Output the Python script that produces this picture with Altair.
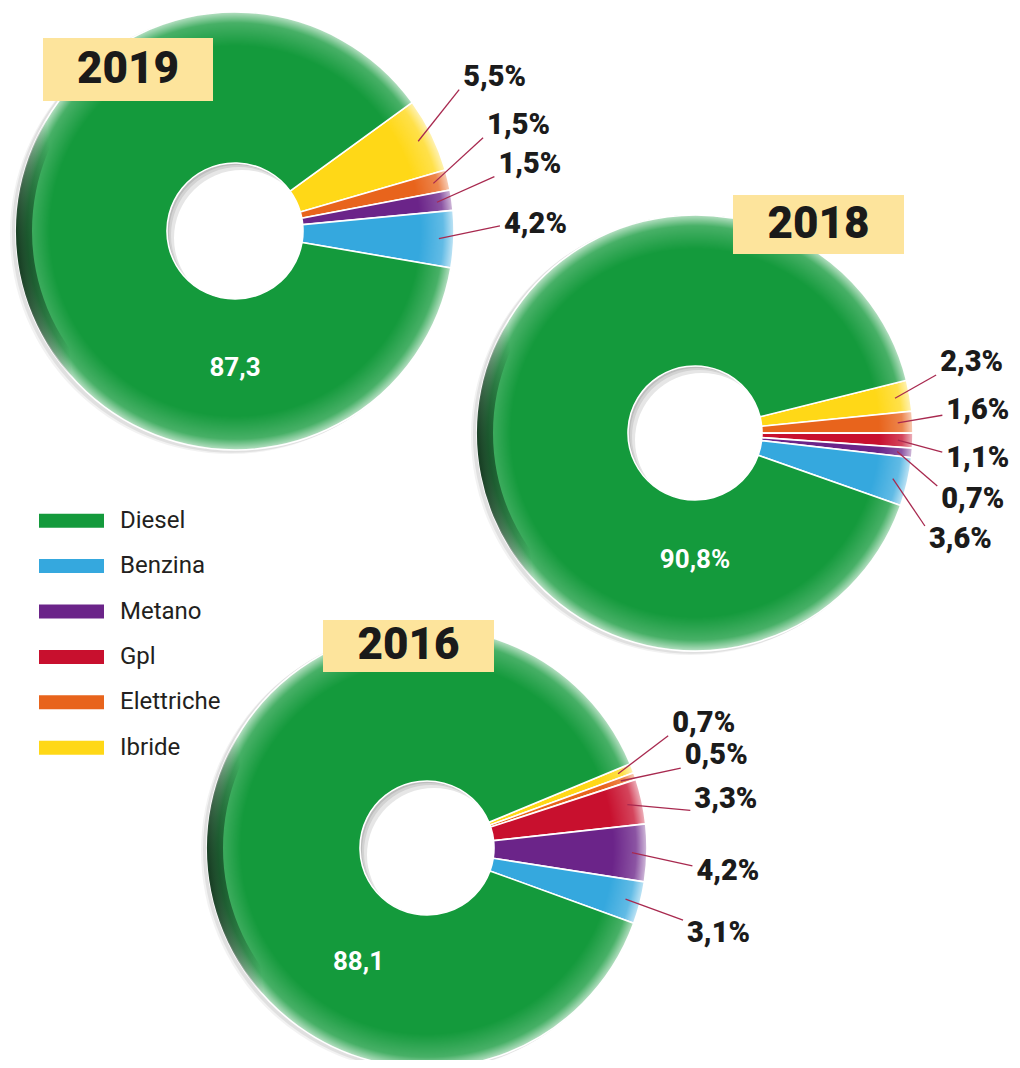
import math
import altair as alt
import pandas as pd

# ---------------- data ----------------
fuels = ["Diesel", "Benzina", "Metano", "Gpl", "Elettriche", "Ibride"]
fuel_colors = ["#149a3c", "#35a8de", "#6b2489", "#c8102e", "#e8641c", "#ffd817"]
ring_order = ["Ibride", "Elettriche", "Gpl", "Metano", "Benzina", "Diesel"]

years = ["2019", "2018", "2016"]
share_2019 = [87.3, 4.2, 1.5, 0.0, 1.5, 5.5]
share_2018 = [90.8, 3.6, 0.7, 1.1, 1.6, 2.3]
share_2016 = [88.1, 3.1, 4.2, 3.3, 0.5, 0.7]
main_label_with_pct = [False, True, False]

# ---------------- layout (page pixels) ----------------
M = 8
W, H = 1004, 1052
layout = {
    "2019": dict(cx=235, cy=231, R=219, r=68, start=54.0, box=(43, 38, 213, 101), main=(180, 137),
                 label_gap=46, label_rot=-4.0),
    "2018": dict(cx=695, cy=433, R=218, r=67, start=76.0, box=(733, 195, 904, 254), main=(180, 127),
                 label_gap=30, label_rot=2.0),
    "2016": dict(cx=427, cy=848, R=220, r=67, start=67.5, box=(323, 620, 494, 672), main=(211, 133),
                 label_gap=46, label_rot=-2.5),
}
FONT = "Roboto"
LEADER = "#a8294f"
TWO_PI = 2 * math.pi


def polar(cx, cy, r, deg):
    a = math.radians(deg)
    return cx + r * math.sin(a), cy - r * math.cos(a)


def fmt(v, pct=True):
    return f"{v:.1f}".replace(".", ",") + ("%" if pct else "")


color_scale = alt.Scale(domain=fuels, range=fuel_colors)

shadow_layers, hole_layers, ring_layers, fx_layers = [], [], [], []
label_rows, box_rows, main_rows = [], [], []

for year, shares, pct in zip(years, [share_2019, share_2018, share_2016], main_label_with_pct):
    L = layout[year]
    cx, cy = L["cx"] - M, L["cy"] - M
    R, r0, s = L["R"], L["r"], L["start"]

    rows = [dict(fuel=f, value=v, ring=ring_order.index(f)) for f, v in zip(fuels, shares) if v > 0]
    df = pd.DataFrame(rows).sort_values("ring").reset_index(drop=True)
    total = df["value"].sum()
    df["cum_end"] = df["value"].cumsum() / total
    df["cum_start"] = df["cum_end"] - df["value"] / total
    df["mid_deg"] = s + 360 * (df["cum_start"] + df["cum_end"]) / 2

    # --- label placement derived from slice angles ---
    small = df[df["fuel"] != "Diesel"].reset_index(drop=True)
    n = len(small)
    small_end = s + 360 * small["cum_end"].iloc[-1]
    centre = (s + small_end) / 2
    step = 11.0
    for i, row in small.iterrows():
        spread = centre + (i - (n - 1) / 2) * step
        la = 0.4 * row["mid_deg"] + 0.6 * spread + L["label_rot"]
        x1, y1 = polar(cx, cy, R - 15, row["mid_deg"])
        x2, y2 = polar(cx, cy, R + L["label_gap"], la)
        dy = -max(-13, min(13, math.cos(math.radians(la)) * 80))
        label_rows.append(dict(year=year, x1=x1, y1=y1, x2=x2, y2=y2,
                               tx=x2 + 4, ty=y2 + dy, text=fmt(row["value"])))

    dval = df.loc[df["fuel"] == "Diesel", "value"].iloc[0]
    mx, my = polar(cx, cy, L["main"][1], L["main"][0])
    main_rows.append(dict(x=mx, y=my, text=fmt(dval, pct)))

    bx1, by1, bx2, by2 = L["box"]
    box_rows.append(dict(year=year, x1=bx1 - M, y1=by1 - M, x2=bx2 - M, y2=by2 - M,
                         tx=(bx1 + bx2) / 2 - M, ty=(by1 + by2) / 2 - M))

    one = pd.DataFrame({"k": [0]})
    # soft outer shadow
    for off, op in [(5, 0.05), (3, 0.07)]:
        shadow_layers.append(
            alt.Chart(one).mark_arc(radius=R + 1, theta=0, theta2=TWO_PI, fill=f"rgba(0,0,0,{op})")
            .encode(x=alt.value(cx - off), y=alt.value(cy + off * 0.6))
        )
    # hole inner shadow
    for dxy, col in [(0, "#bdbdbd"), (2, "#d2d2d2"), (4, "#e6e6e6"), (7, "#ffffff")]:
        hole_layers.append(
            alt.Chart(one).mark_arc(radius=r0, theta=0, theta2=TWO_PI, fill=col)
            .encode(x=alt.value(cx + dxy), y=alt.value(cy + dxy))
        )
    # the donut itself
    ring_layers.append(
        alt.Chart(df).mark_arc(radius=R, radius2=r0, stroke="white", strokeWidth=1.6)
        .encode(
            theta=alt.Theta("value:Q", stack="normalize",
                            scale=alt.Scale(range=[math.radians(s), math.radians(s) + TWO_PI], nice=False)),
            order=alt.Order("ring:Q"),
            color=alt.Color("fuel:N", scale=color_scale, legend=None),
            x=alt.value(cx), y=alt.value(cy),
        )
    )
    # rim highlight (radial) and left dark edge (linear)
    inner_off = (R - 34) / R
    fx_layers.append(
        alt.Chart(one).mark_arc(
            radius=R, radius2=R - 34, theta=0, theta2=TWO_PI,
            fill={"gradient": "radial", "x1": 0.5, "y1": 0.5, "r1": 0, "x2": 0.5, "y2": 0.5, "r2": 0.5,
                  "stops": [{"offset": inner_off, "color": "rgba(255,255,255,0)"},
                            {"offset": 0.95, "color": "rgba(255,255,255,0.22)"},
                            {"offset": 1.0, "color": "rgba(255,255,255,0.7)"}]},
        ).encode(x=alt.value(cx), y=alt.value(cy))
    )
    fx_layers.append(
        alt.Chart(one).mark_arc(
            radius=R, radius2=R - 16, theta=0, theta2=TWO_PI,
            fill={"gradient": "linear", "x1": 0, "y1": 0.55, "x2": 1, "y2": 0.45,
                  "stops": [{"offset": 0.0, "color": "rgba(6,45,18,0.95)"},
                            {"offset": 0.1, "color": "rgba(6,45,18,0)"},
                            {"offset": 1.0, "color": "rgba(6,45,18,0)"}]},
        ).encode(x=alt.value(cx), y=alt.value(cy))
    )

labels = pd.DataFrame(label_rows)
boxes = pd.DataFrame(box_rows)
mains = pd.DataFrame(main_rows)
legend_df = pd.DataFrame({"fuel": fuels})

leaders = alt.Chart(labels).mark_rule(color=LEADER, strokeWidth=1.3).encode(
    x=alt.X("x1:Q", scale=None), y=alt.Y("y1:Q", scale=None), x2="x2:Q", y2="y2:Q"
)
pct_text = alt.Chart(labels).mark_text(
    align="left", baseline="middle", font=FONT, fontSize=29, fontWeight=900, color="#1b1b1b"
).encode(x=alt.X("tx:Q", scale=None), y=alt.Y("ty:Q", scale=None), text="text:N")

main_text = alt.Chart(mains).mark_text(
    align="center", baseline="middle", font=FONT, fontSize=26, fontWeight="bold", color="white"
).encode(x=alt.X("x:Q", scale=None), y=alt.Y("y:Q", scale=None), text="text:N")

box_shadow = alt.Chart(boxes).mark_rect(fill="rgba(0,0,0,0.16)").encode(
    x=alt.X("x1:Q", scale=None), y=alt.Y("y1:Q", scale=None), x2="x2:Q", y2="y2:Q",
    xOffset=alt.value(4), yOffset=alt.value(4)
)
box_rect = alt.Chart(boxes).mark_rect(fill="#fde49c").encode(
    x=alt.X("x1:Q", scale=None), y=alt.Y("y1:Q", scale=None), x2="x2:Q", y2="y2:Q"
)
box_text = alt.Chart(boxes).mark_text(
    align="center", baseline="middle", font=FONT, fontSize=44, fontWeight=900, color="#1a1a1a"
).encode(x=alt.X("tx:Q", scale=None), y=alt.Y("ty:Q", scale=None), text="year:N")

leg_y = alt.Y("fuel:N", axis=None,
              scale=alt.Scale(type="point", domain=fuels, range=[520.7 - M, 747.7 - M], padding=0))
leg_sw = alt.Chart(legend_df).mark_rule(strokeWidth=14, strokeCap="butt").encode(
    x=alt.value(39 - M), x2=alt.value(104 - M), y=leg_y,
    color=alt.Color("fuel:N", scale=color_scale, legend=None)
)
leg_tx = alt.Chart(legend_df).mark_text(
    align="left", baseline="middle", font=FONT, fontSize=24, color="#231f20"
).encode(x=alt.value(120 - M), y=leg_y, text="fuel:N")

chart = alt.layer(
    *shadow_layers, *hole_layers, *ring_layers, *fx_layers,
    box_shadow, box_rect, box_text,
    leaders, pct_text, main_text,
    leg_sw, leg_tx,
).resolve_scale(
    theta="independent", x="independent", y="independent"
).properties(
    width=W, height=H, padding=0, autosize=alt.AutoSizeParams(type="none"), background="white"
).configure_view(stroke=None)

chart.save("out.html", embed_options={"renderer": "svg", "actions": False})
